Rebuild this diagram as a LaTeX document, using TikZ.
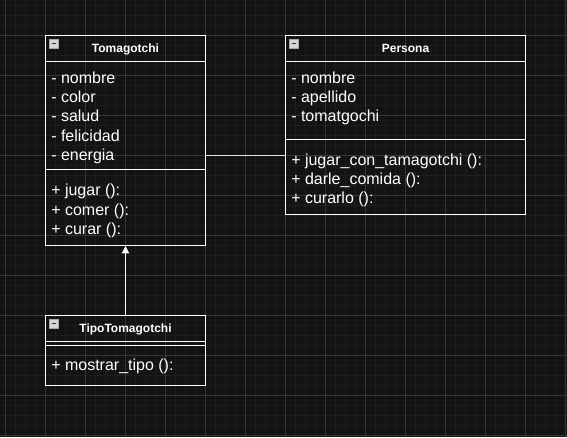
\documentclass[tikz,border=0pt]{standalone}
\usepackage{fontspec}
\setmainfont{Liberation Sans}
\usetikzlibrary{arrows.meta}
\definecolor{canvas}{HTML}{131313}
\definecolor{gridminor}{HTML}{1D1D1D}
\definecolor{gridmajor}{HTML}{363636}
\definecolor{linkgray}{HTML}{E2E2E2}
\definecolor{iconfill}{HTML}{D4D4D4}
\begin{document}
\begin{tikzpicture}[x=0.75pt,y=-0.75pt,
	classbox/.style={draw=white,line width=0.75pt,inner sep=0pt,anchor=north west},
	sep/.style={draw=white,line width=0.75pt},
	title/.style={anchor=base,inner sep=0pt,text=white,font=\bfseries\fontsize{9pt}{11pt}\selectfont},
	member/.style={anchor=base west,inner sep=0pt,text=white,font=\fontsize{12pt}{14.4pt}\selectfont},
	iconbox/.style={fill=iconfill,draw=gray!70,line width=0.6pt}]
	\useasboundingbox (0,0) rectangle (567,437);
	\fill[canvas] (0,0) rectangle (567,437);
	\foreach \x in {5,15,...,565} \draw[gridminor,line width=0.75pt] (\x,0) -- (\x,437);
	\foreach \y in {5,15,...,435} \draw[gridminor,line width=0.75pt] (0,\y) -- (567,\y);
	\foreach \x in {5,45,...,565} \draw[gridmajor,line width=0.75pt] (\x,0) -- (\x,437);
	\foreach \y in {35,75,...,435} \draw[gridmajor,line width=0.75pt] (0,\y) -- (567,\y);

	\node[classbox,minimum width=120pt,minimum height=157.5pt] (tomagotchi) at (45,35) {};
	\node[classbox,minimum width=180pt,minimum height=134.25pt] (persona) at (285,35) {};
	\node[classbox,minimum width=120pt,minimum height=52.5pt] (tipo) at (45,315) {};

	\foreach \c in {tomagotchi,persona,tipo} {
		\draw[sep] ([yshift=-19.5pt]\c.north west) -- ([yshift=-19.5pt]\c.north east);
		\draw[iconbox] ([shift={(4.5,4.5)}]\c.north west) rectangle ++(8.5,8.5);
		\draw[black!80,line width=1pt] ([shift={(6.5,8.75)}]\c.north west) -- ++(4.5,0);
	}
	\draw[sep] ([yshift=-100.5pt]tomagotchi.north west) -- ([yshift=-100.5pt]tomagotchi.north east);
	\draw[sep] ([yshift=-78pt]persona.north west) -- ([yshift=-78pt]persona.north east);
	\draw[sep] ([yshift=-22.5pt]tipo.north west) -- ([yshift=-22.5pt]tipo.north east);

	\node[title] at ([yshift=-12.75pt]tomagotchi.north) {Tomagotchi};
	\node[title] at ([yshift=-12.75pt]persona.north) {Persona};
	\node[title] at ([yshift=-13pt]tipo.north) {TipoTomagotchi};

	\foreach \t [count=\i from 0] in {- nombre,- color,- salud,- felicidad,- energia}
		\node[member] at ([shift={(6,48.3+19.3*\i)}]tomagotchi.north west) {\t};
	\foreach \t [count=\i from 0] in {+ jugar ():,+ comer ():,+ curar ():}
		\node[member] at ([shift={(6,160.7+19.3*\i)}]tomagotchi.north west) {\t};
	\foreach \t [count=\i from 0] in {- nombre,- apellido,- tomatgochi}
		\node[member] at ([shift={(6,48.3+19.3*\i)}]persona.north west) {\t};
	\foreach \t [count=\i from 0] in {+ jugar\_con\_tamagotchi ():,+ darle\_comida ():,+ curarlo ():}
		\node[member] at ([shift={(6,130+19.3*\i)}]persona.north west) {\t};
	\node[member] at ([shift={(6,55.7)}]tipo.north west) {+ mostrar\_tipo ():};

	\draw[linkgray,line width=0.75pt] (tomagotchi.east |- 0,155) -- (persona.west |- 0,155);
	\draw[white,line width=0.75pt,-{Triangle[width=5.5pt,length=5.5pt]}] (tipo.north) -- (tomagotchi.south);
\end{tikzpicture}
\end{document}
